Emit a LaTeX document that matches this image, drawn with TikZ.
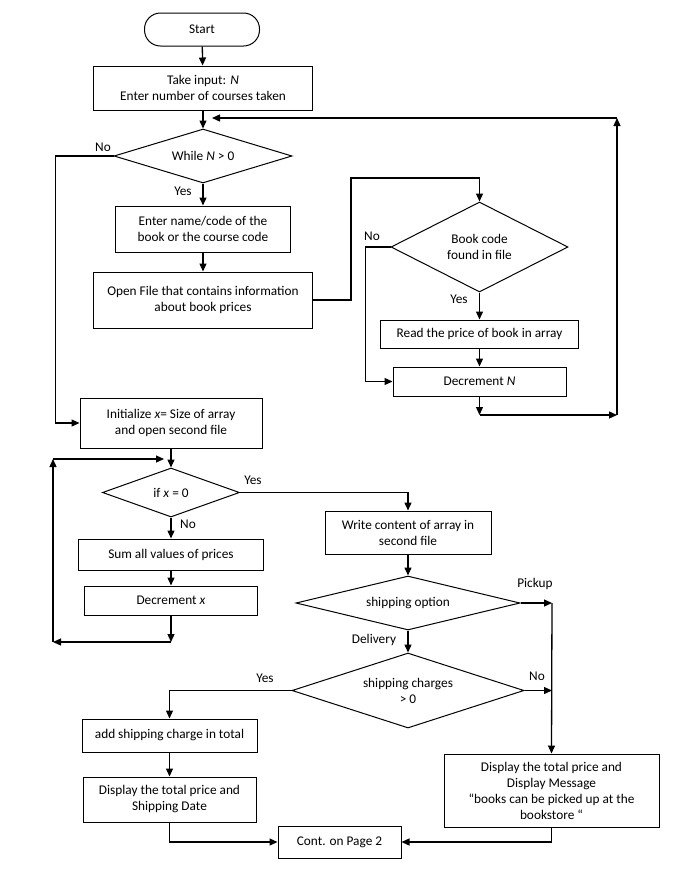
\documentclass[tikz,border=0pt]{standalone}
\usepackage{fontspec}
\setmainfont{Carlito}
\usetikzlibrary{shapes.geometric,arrows.meta}
\begin{document}
\begin{tikzpicture}[x=1pt,y=-1pt,
  every node/.style={font=\fontsize{13.3}{16}\selectfont},
  box/.style={draw,line width=1pt,rectangle,align=center,inner sep=0pt},
  term/.style={box,rounded corners=16pt},
  dec/.style={draw,line width=1pt,diamond,aspect=3,align=center,inner sep=0pt},
  arr/.style={line width=1.3pt,-{Triangle[length=8pt,width=7pt]}},
  ln/.style={line width=1.3pt},
  lbl/.style={inner sep=0pt}]
\useasboundingbox (0,0) rectangle (692,871);
% nodes
\node[term,minimum width=115pt,minimum height=33pt] (start) at (202,29.5) {Start};
\node[box,minimum width=219pt,minimum height=44pt] (input) at (203,88) {Take input: \textit{N}\\Enter number of courses taken};
\node[dec,minimum width=178pt,minimum height=54pt] (while) at (203,156) {While \textit{N} > 0};
\node[box,minimum width=175pt,minimum height=46pt] (enter) at (203,229) {Enter name/code of the\\book or the course code};
\node[box,minimum width=219pt,minimum height=56pt] (open) at (203,300) {Open File that contains information\\about book prices};
\node[dec,minimum width=177pt,minimum height=90pt] (book) at (479.5,247) {Book code\\found in file};
\node[box,minimum width=198pt,minimum height=28pt] (read) at (479.5,334) {Read the price of book in array};
\node[box,minimum width=173pt,minimum height=29pt] (decn) at (479.5,381.5) {Decrement \textit{N}};
\node[box,minimum width=182pt,minimum height=50pt] (init) at (171,423) {Initialize \textit{x}= Size of array\\and open second file};
\node[dec,minimum width=137pt,minimum height=49pt] (ifx) at (171,492.5) {if \textit{x} = 0};
\node[box,minimum width=185pt,minimum height=31pt] (sum) at (171,554.5) {Sum all values of prices};
\node[box,minimum width=173pt,minimum height=29pt] (decx) at (171,600.5) {Decrement \textit{x}};
\node[box,minimum width=166pt,minimum height=43pt] (write) at (408,532.5) {Write content of array in\\second file};
\node[dec,minimum width=224pt,minimum height=54pt] (ship) at (408,603) {shipping option};
\node[dec,minimum width=232pt,minimum height=75pt] (charge) at (408,690.5) {shipping charges\\> 0};
\node[box,minimum width=175pt,minimum height=33pt] (add) at (169.5,735.5) {add shipping charge in total};
\node[box,minimum width=173pt,minimum height=45pt] (disp) at (169.5,799.5) {Display the total price and\\Shipping Date};
\node[box,minimum width=215pt,minimum height=73pt] (msg) at (551.5,790.5) {Display the total price and\\Display Message\\“books can be picked up at the\\bookstore “};
\node[box,minimum width=123pt,minimum height=32pt] (cont) at (339.5,842) {Cont. on Page 2};
% coordinates
\coordinate (dn) at (479.5,415);
\coordinate (re) at (617,415);
\coordinate (rt) at (617,118);
\coordinate (wl) at (212,118);
\coordinate (j1) at (351,178);
\coordinate (lb) at (171,642);
\coordinate (ll) at (53,642);
\coordinate (lt) at (53,459);
\coordinate (lr) at (164,459);
\coordinate (pk) at (552,603);
\coordinate (nr) at (552,690.5);
% connectors
\draw[arr] (start) -- (input);
\draw[arr] (input) -- (while);
\draw[arr] (while.west) -- ++(-58,0) |- (init.west);
\draw[arr] (while) -- (enter);
\draw[arr] (enter) -- (open);
\draw[arr] (open.east) -| (j1) -| (book.north);
\draw[arr] (book.west) -- ++(-25,0) |- (decn.west);
\draw[arr] (book) -- (read);
\draw[arr] (read) -- (decn);
\draw[arr] (decn) -- (dn);
\draw[arr] (dn) -- (re);
\draw[arr] (re) -- (rt);
\draw[arr] (rt) -- (wl);
\draw[arr] (init) -- (ifx);
\draw[arr] (ifx.east) -| (write.north);
\draw[arr] (ifx) -- (sum);
\draw[arr] (sum) -- (decx);
\draw[arr] (decx) -- (lb);
\draw[arr] (lb) -- (ll);
\draw[arr] (ll) -- (lt);
\draw[arr] (lt) -- (lr);
\draw[arr] (write) -- (ship);
\draw[arr] (ship.east) -- (pk);
\draw[arr] (pk) -- (msg.north);
\draw[arr] (ship) -- (charge);
\draw[arr] (charge.east) -- (nr);
\draw[arr] (charge.west) -| (add.north);
\draw[arr] (add) -- (disp);
\draw[arr] (disp.south) |- (cont.west);
\draw[arr] (msg.south) |- (cont.east);
% labels
\node[lbl] (l1) at (103,147) {No};
\node[lbl] (l2) at (183,191) {Yes};
\node[lbl] (l3) at (372,236) {No};
\node[lbl] (l4) at (459,299) {Yes};
\node[lbl] (l5) at (253,480) {Yes};
\node[lbl] (l6) at (188,524) {No};
\node[lbl] (l7) at (535,584) {Pickup};
\node[lbl] (l8) at (374,640) {Delivery};
\node[lbl] (l9) at (537,676) {No};
\node[lbl] (l10) at (265,678) {Yes};
\end{tikzpicture}
\end{document}
